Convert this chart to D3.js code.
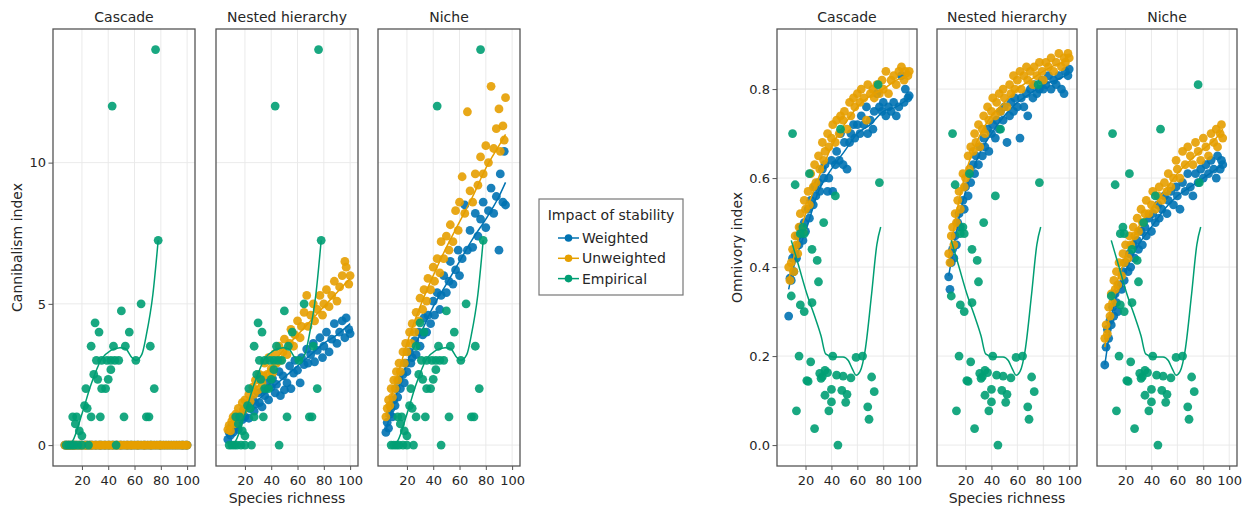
<!DOCTYPE html>
<html>
<head>
<meta charset="utf-8">
<script src="https://cdn.jsdelivr.net/npm/d3@7"></script>
<style>
  body { margin: 0; background: #fff; }
  text { font-family: "DejaVu Sans", sans-serif; fill: #262626; }
</style>
</head>
<body>
<div id="chart"></div>
<script>
// species richness of the simulated webs (cascade + nested hierarchy)
const S = [7, 8, 9, 10, 11, 12, 13, 14, 15, 16, 18, 19, 20, 22, 23, 24, 26, 27, 28, 30,
  31, 33, 34, 35, 37, 38, 40, 41, 43, 44, 46, 47, 49, 50, 52, 54, 55, 57, 58, 60,
  62, 63, 65, 67, 68, 70, 72, 73, 75, 77, 79, 80, 82, 84, 86, 88, 90, 92, 94, 96,
  97, 99, 100];
// niche model webs
const nicheS = [4, 5, 6, 7, 8, 9, 10, 11, 12, 13, 14, 15, 17, 18, 19, 20, 22, 23, 24, 26,
  27, 29, 30, 32, 33, 35, 36, 38, 40, 41, 43, 45, 46, 48, 50, 52, 53, 55, 57, 59,
  60, 62, 64, 66, 68, 70, 72, 74, 76, 78, 80, 82, 84, 86, 88, 90, 91, 93, 94, 95];

// cannibalism index
const canCascadeW = [0, 0, 0, 0, 0, 0, 0, 0, 0, 0, 0, 0, 0, 0, 0, 0, 0, 0, 0, 0,
  0, 0, 0, 0, 0, 0, 0, 0, 0, 0, 0, 0, 0, 0, 0, 0, 0, 0, 0, 0,
  0, 0, 0, 0, 0, 0, 0, 0, 0, 0, 0, 0, 0, 0, 0, 0, 0, 0, 0, 0, 0, 0, 0];
const canCascadeU = [0, 0, 0, 0, 0, 0, 0, 0, 0, 0, 0, 0, 0, 0, 0, 0, 0, 0, 0, 0,
  0, 0, 0, 0, 0, 0, 0, 0, 0, 0, 0, 0, 0, 0, 0, 0, 0, 0, 0, 0,
  0, 0, 0, 0, 0, 0, 0, 0, 0, 0, 0, 0, 0, 0, 0, 0, 0, 0, 0, 0, 0, 0, 0];
const canNestedW = [0.2, 0.45, 0.35, 0.7, 0.45, 0.6, 0.9, 0.75, 0.55, 1.0,
  0.9, 1.25, 1.0, 1.4, 0.95, 1.3, 1.6, 1.2, 1.45, 1.85,
  1.5, 1.35, 1.95, 1.75, 2.25, 1.6, 2.05, 2.35, 1.85, 2.15,
  2.6, 1.75, 2.45, 1.95, 2.2, 2.8, 2.0, 2.55, 3.0, 2.65,
  2.2, 3.1, 2.85, 3.4, 2.9, 3.2, 3.6, 2.95, 3.35, 3.8,
  3.1, 3.5, 4.0, 3.3, 3.75, 4.3, 3.6, 4.0, 4.4, 3.8,
  4.5, 4.1, 3.95];
const canNestedU = [0.55, 0.7, 0.5, 0.85, 1.0, 0.75, 1.1, 0.95, 1.3, 1.05,
  1.5, 1.25, 1.6, 1.35, 1.8, 1.55, 2.05, 1.8, 2.3, 1.95,
  2.5, 2.2, 2.45, 2.9, 2.5, 3.1, 2.7, 2.55, 3.25, 2.9,
  3.5, 3.0, 3.3, 3.75, 3.2, 3.6, 4.1, 3.5, 3.9, 4.4,
  3.8, 4.2, 4.7, 5.3, 4.2, 4.6, 5.0, 4.4, 4.8, 5.3,
  4.6, 5.0, 5.5, 4.9, 5.3, 5.8, 5.1, 5.6, 6.0, 6.5,
  6.3, 5.7, 6.0];
const canNicheW = [0.45, 0.8, 0.6, 1.1, 1.3, 1.0, 1.6, 1.4, 2.0, 1.7,
  2.3, 2.0, 2.5, 2.2, 2.9, 2.6, 3.3, 2.9, 3.1, 3.7,
  3.2, 4.0, 3.5, 3.9, 4.5, 4.0, 4.6, 4.3, 5.1, 4.6,
  5.4, 4.8, 5.3, 6.0, 5.4, 5.8, 6.5, 5.7, 6.2, 6.9,
  6.0, 6.6, 8.5, 6.9, 7.6, 7.0, 8.2, 7.4, 8.0, 8.6,
  7.7, 8.3, 9.1, 8.2, 8.8, 6.9, 9.6, 8.6, 10.4, 8.5];
const canNicheU = [1.0, 1.3, 1.6, 1.4, 2.0, 1.7, 2.3, 2.0, 2.6, 2.3,
  2.9, 2.6, 3.3, 2.9, 3.6, 3.3, 4.0, 3.6, 4.3, 4.0,
  4.7, 4.4, 5.2, 4.8, 5.5, 5.1, 5.9, 5.5, 6.3, 5.8,
  6.6, 6.1, 7.2, 6.6, 7.4, 6.9, 7.8, 7.2, 8.3, 7.6,
  8.6, 9.5, 8.2, 11.8, 9.0, 8.6, 9.6, 9.2, 10.2, 9.6,
  10.6, 10.0, 12.7, 10.5, 11.2, 11.9, 10.4, 11.3, 10.8, 12.3];

// omnivory index
const omnCascadeW = [0.29, 0.375, 0.37, 0.42, 0.39, 0.43, 0.42, 0.47, 0.45, 0.49,
  0.46, 0.50, 0.48, 0.53, 0.51, 0.55, 0.54, 0.58, 0.56, 0.59,
  0.57, 0.62, 0.60, 0.63, 0.57, 0.60, 0.64, 0.57, 0.63, 0.66,
  0.64, 0.70, 0.63, 0.68, 0.62, 0.68, 0.70, 0.72, 0.69, 0.72,
  0.70, 0.74, 0.72, 0.76, 0.70, 0.73, 0.71, 0.75, 0.79, 0.76,
  0.75, 0.77, 0.74, 0.76, 0.75, 0.77, 0.74, 0.76, 0.83, 0.77,
  0.80, 0.78, 0.785];
const omnCascadeU = [0.40, 0.37, 0.41, 0.44, 0.39, 0.47, 0.45, 0.43, 0.49, 0.52,
  0.48, 0.55, 0.53, 0.57, 0.54, 0.61, 0.58, 0.63, 0.59, 0.65,
  0.62, 0.68, 0.64, 0.66, 0.70, 0.67, 0.69, 0.72, 0.68, 0.73,
  0.70, 0.74, 0.73, 0.75, 0.71, 0.77, 0.74, 0.78, 0.76, 0.79,
  0.77, 0.80, 0.78, 0.73, 0.81, 0.79, 0.80, 0.78, 0.81, 0.79,
  0.82, 0.80, 0.84, 0.79, 0.82, 0.83, 0.81, 0.84, 0.85, 0.82,
  0.84, 0.83, 0.84];
const omnNestedW = [0.378, 0.35, 0.41, 0.44, 0.42, 0.47, 0.45, 0.50, 0.52, 0.49,
  0.55, 0.53, 0.58, 0.56, 0.61, 0.59, 0.63, 0.61, 0.65, 0.63,
  0.67, 0.65, 0.69, 0.67, 0.71, 0.66, 0.70, 0.72, 0.69, 0.73,
  0.71, 0.75, 0.73, 0.76, 0.68, 0.74, 0.77, 0.75, 0.78, 0.76,
  0.69, 0.78, 0.76, 0.79, 0.74, 0.80, 0.78, 0.81, 0.79, 0.80,
  0.82, 0.80, 0.81, 0.83, 0.80, 0.82, 0.81, 0.83, 0.80, 0.79,
  0.84, 0.83, 0.845];
const omnNestedU = [0.43, 0.41, 0.47, 0.49, 0.45, 0.52, 0.50, 0.55, 0.57, 0.53,
  0.61, 0.58, 0.60, 0.65, 0.62, 0.67, 0.66, 0.70, 0.68, 0.72,
  0.67, 0.71, 0.74, 0.70, 0.76, 0.73, 0.75, 0.78, 0.74, 0.77,
  0.79, 0.75, 0.80, 0.78, 0.76, 0.81, 0.79, 0.83, 0.80, 0.82,
  0.84, 0.80, 0.83, 0.85, 0.82, 0.84, 0.81, 0.85, 0.83, 0.86,
  0.84, 0.82, 0.86, 0.85, 0.87, 0.84, 0.86, 0.88, 0.85, 0.87,
  0.86, 0.88, 0.87];
const omnNicheW = [0.18, 0.22, 0.26, 0.24, 0.28, 0.27, 0.31, 0.29, 0.34, 0.32,
  0.30, 0.36, 0.35, 0.39, 0.37, 0.41, 0.39, 0.43, 0.40, 0.45,
  0.42, 0.46, 0.44, 0.48, 0.45, 0.49, 0.47, 0.51, 0.48, 0.52,
  0.50, 0.54, 0.51, 0.53, 0.56, 0.52, 0.55, 0.57, 0.54, 0.58,
  0.56, 0.53, 0.59, 0.57, 0.61, 0.58, 0.56, 0.61, 0.59, 0.62,
  0.60, 0.63, 0.61, 0.64, 0.62, 0.60, 0.65, 0.62, 0.64, 0.63];
const omnNicheU = [0.24, 0.27, 0.25, 0.31, 0.29, 0.34, 0.32, 0.37, 0.35, 0.39,
  0.36, 0.41, 0.38, 0.43, 0.41, 0.45, 0.42, 0.47, 0.45, 0.49,
  0.47, 0.51, 0.48, 0.53, 0.50, 0.52, 0.55, 0.52, 0.54, 0.57,
  0.53, 0.56, 0.58, 0.55, 0.59, 0.57, 0.61, 0.58, 0.60, 0.64,
  0.62, 0.60, 0.66, 0.63, 0.67, 0.65, 0.63, 0.68, 0.66, 0.64,
  0.69, 0.67, 0.65, 0.70, 0.68, 0.71, 0.67, 0.70, 0.72, 0.69];

// empirical food webs (same in every panel)
const empCanS = [76, 43, 78, 65, 50, 30, 33, 56, 27, 44, 53, 72, 31, 35, 39, 42, 45, 48, 61, 29,
  32, 42, 40, 35, 38, 23, 75, 22, 24, 13, 16, 27, 34, 52, 69, 71, 15, 18, 20, 8,
  10, 12, 14, 17, 20, 25, 46];
const empCan = [14, 12, 7.25, 5, 4.75, 4.33, 4, 4, 3.5, 3.5, 3.5, 3.5, 3, 3, 3, 3, 3, 3, 3, 2.5,
  2.33, 2.67, 2.33, 2, 2, 2, 2, 1.4, 1.3, 1, 1, 1, 1, 1, 1, 1, 0.75, 0.5, 0.33, 0,
  0, 0, 0, 0, 0, 0, 0];
const empOmnS = [10, 12, 23, 77, 76, 43, 47, 34, 16, 18, 19, 25, 29, 30, 9, 16, 19, 25, 15, 41,
  59, 64, 24, 31, 33, 35, 37, 32, 44, 49, 55, 71, 21, 22, 35, 40, 40, 38, 48, 52,
  51, 73, 68, 69, 13, 27, 45];
const empOmn = [0.70, 0.585, 0.61, 0.59, 0.81, 0.56, 0.71, 0.50, 0.475, 0.49,
  0.475, 0.44, 0.415, 0.367, 0.335, 0.315, 0.30, 0.32, 0.20, 0.20,
  0.197, 0.20, 0.187, 0.161, 0.154, 0.168, 0.163, 0.15, 0.157, 0.155,
  0.151, 0.153, 0.145, 0.143, 0.112, 0.125, 0.097, 0.077, 0.123, 0.114,
  0.096, 0.12, 0.086, 0.058, 0.077, 0.037, 0];

// smoothed trends
const fitS = [7, 10, 15, 20, 30, 40, 50, 60, 70, 80, 90, 100];
const nicheFitS = [4, 5, 8, 10, 15, 20, 30, 40, 50, 60, 70, 80, 90, 95];
const canCascadeFit = [0, 0, 0, 0, 0, 0, 0, 0, 0, 0, 0, 0];
const canNestedWFit = [0.3, 0.5, 0.8, 1.1, 1.6, 2.0, 2.4, 2.8, 3.2, 3.6, 3.9, 4.3];
const canNestedUFit = [0.5, 0.7, 1.05, 1.4, 2.1, 2.8, 3.4, 3.9, 4.4, 4.9, 5.4, 5.9];
const canNicheWFit = [0.5, 0.7, 1.15, 1.5, 2.2, 2.9, 3.9, 4.9, 5.7, 6.5, 7.3, 8.0, 8.8, 9.3];
const canNicheUFit = [1.0, 1.2, 1.7, 2.0, 2.8, 3.6, 4.9, 6.0, 7.0, 7.9, 8.8, 9.8, 10.6, 11.0];
const omnCascadeWFit = [0.35, 0.39, 0.44, 0.48, 0.57, 0.62, 0.66, 0.70, 0.72, 0.75, 0.76, 0.78];
const omnCascadeUFit = [0.37, 0.41, 0.47, 0.52, 0.60, 0.67, 0.72, 0.76, 0.785, 0.80, 0.82, 0.83];
const omnNestedWFit = [0.38, 0.43, 0.51, 0.57, 0.65, 0.70, 0.74, 0.77, 0.79, 0.81, 0.82, 0.835];
const omnNestedUFit = [0.42, 0.47, 0.55, 0.61, 0.69, 0.74, 0.77, 0.80, 0.82, 0.84, 0.855, 0.865];
const omnNicheWFit = [0.18, 0.20, 0.26, 0.30, 0.35, 0.39, 0.45, 0.49, 0.53, 0.56, 0.58, 0.60, 0.62, 0.63];
const omnNicheUFit = [0.22, 0.24, 0.30, 0.33, 0.38, 0.42, 0.49, 0.53, 0.57, 0.61, 0.64, 0.665, 0.69, 0.71];
const empCanFitS = [9, 13, 20, 27, 35, 42, 49, 53, 58, 61, 65.5, 69, 74, 78];
const empCanFit = [0, 0.15, 1.1, 2.15, 3.05, 3.35, 3.45, 3.42, 3.1, 3.0, 3.2, 3.9, 5.35, 7.25];
const empOmnFitS = [9, 15, 21, 27, 32, 35.5, 41.5, 49, 53, 56, 59, 62, 66, 71, 75, 78];
const empOmnFit = [0.46, 0.40, 0.34, 0.29, 0.245, 0.205, 0.198, 0.198, 0.19, 0.172, 0.157, 0.165, 0.213, 0.34, 0.45, 0.49];

const models = ["Cascade", "Nested hierarchy", "Niche"];
const seriesNames = ["Weighted", "Unweighted", "Empirical"];
const color = { Weighted: "#0072b2", Unweighted: "#e69f00", Empirical: "#009e73" };
const xTicks = [20, 40, 60, 80, 100];

const zip = (xs, ys) => xs.map((x, i) => [x, ys[i]]);

const groups = [
  {
    lefts: [53, 216, 378], width: 142, yDomain: [-0.74, 14.73], yTicks: [0, 5, 10],
    yFormat: d3.format("d"), ylabel: "Cannibalism index", ylabelX: 17,
    emp: { pts: zip(empCanS, empCan), fit: zip(empCanFitS, empCanFit) },
    panels: [
      { W: zip(S, canCascadeW), U: zip(S, canCascadeU), WFit: zip(fitS, canCascadeFit), UFit: zip(fitS, canCascadeFit) },
      { W: zip(S, canNestedW), U: zip(S, canNestedU), WFit: zip(fitS, canNestedWFit), UFit: zip(fitS, canNestedUFit) },
      { W: zip(nicheS, canNicheW), U: zip(nicheS, canNicheU), WFit: zip(nicheFitS, canNicheWFit), UFit: zip(nicheFitS, canNicheUFit) }
    ]
  },
  {
    lefts: [777, 937, 1097], width: 140, yDomain: [-0.047, 0.935], yTicks: [0, 0.2, 0.4, 0.6, 0.8],
    yFormat: d3.format(".1f"), ylabel: "Omnivory index", ylabelX: 737,
    emp: { pts: zip(empOmnS, empOmn), fit: zip(empOmnFitS, empOmnFit) },
    panels: [
      { W: zip(S, omnCascadeW), U: zip(S, omnCascadeU), WFit: zip(fitS, omnCascadeWFit), UFit: zip(fitS, omnCascadeUFit) },
      { W: zip(S, omnNestedW), U: zip(S, omnNestedU), WFit: zip(fitS, omnNestedWFit), UFit: zip(fitS, omnNestedUFit) },
      { W: zip(nicheS, omnNicheW), U: zip(nicheS, omnNicheU), WFit: zip(nicheFitS, omnNicheWFit), UFit: zip(nicheFitS, omnNicheUFit) }
    ]
  }
];

const panelTop = 29, panelH = 437;
const svg = d3.select("#chart").append("svg")
  .attr("width", 1250).attr("height", 510);

groups.forEach(grp => {
  const y = d3.scaleLinear().domain(grp.yDomain).range([panelH, 0]);

  grp.panels.forEach((p, i) => {
    const x = d3.scaleLinear().domain([-2, 106]).range([0, grp.width]);
    const g = svg.append("g").attr("transform", `translate(${grp.lefts[i]},${panelTop})`);

    // grid
    g.selectAll(".vg").data(xTicks).join("line")
      .attr("x1", d => x(d)).attr("x2", d => x(d))
      .attr("y1", 0).attr("y2", panelH)
      .attr("stroke", "#e8e8e8").attr("stroke-width", 0.9);
    g.selectAll(".hg").data(grp.yTicks).join("line")
      .attr("x1", 0).attr("x2", grp.width)
      .attr("y1", d => y(d)).attr("y2", d => y(d))
      .attr("stroke", "#e8e8e8").attr("stroke-width", 0.9);

    const line = d3.line().x(d => x(d[0])).y(d => y(d[1])).curve(d3.curveMonotoneX);

    const layers = [
      { name: "Weighted", pts: p.W, fit: p.WFit },
      { name: "Unweighted", pts: p.U, fit: p.UFit },
      { name: "Empirical", pts: grp.emp.pts, fit: grp.emp.fit }
    ];
    layers.forEach(l => {
      g.append("g").selectAll("circle").data(l.pts).join("circle")
        .attr("cx", d => x(d[0])).attr("cy", d => y(d[1]))
        .attr("r", 4.4)
        .attr("fill", color[l.name]).attr("fill-opacity", 0.9);
      g.append("path").datum(l.fit)
        .attr("d", line)
        .attr("fill", "none")
        .attr("stroke", color[l.name])
        .attr("stroke-width", 1.5);
    });

    g.append("rect")
      .attr("width", grp.width).attr("height", panelH)
      .attr("fill", "none").attr("stroke", "#555").attr("stroke-width", 1.3);

    const xa = g.append("g").attr("transform", `translate(0,${panelH})`)
      .call(d3.axisBottom(x).tickValues(xTicks).tickSize(4).tickPadding(6));
    xa.select(".domain").remove();
    xa.selectAll("line").attr("stroke", "#555");
    xa.selectAll("text").attr("font-size", 13).attr("font-family", "DejaVu Sans").attr("fill", "#262626");

    if (i === 0) {
      const ya = g.append("g")
        .call(d3.axisLeft(y).tickValues(grp.yTicks).tickFormat(grp.yFormat).tickSize(4.5).tickPadding(2.5));
      ya.select(".domain").remove();
      ya.selectAll("line").attr("stroke", "#555");
      ya.selectAll("text").attr("font-size", 13).attr("font-family", "DejaVu Sans").attr("fill", "#262626");
    }

    g.append("text")
      .attr("x", grp.width / 2).attr("y", -7)
      .attr("text-anchor", "middle").attr("font-size", 14)
      .text(models[i]);

    if (i === 1) {
      g.append("text")
        .attr("x", grp.width / 2).attr("y", panelH + 37)
        .attr("text-anchor", "middle").attr("font-size", 14)
        .text("Species richness");
    }
  });

  svg.append("text")
    .attr("transform", `translate(${grp.ylabelX + 5},${panelTop + panelH / 2}) rotate(-90)`)
    .attr("text-anchor", "middle").attr("font-size", 14)
    .text(grp.ylabel);
});

// legend
const lg = svg.append("g").attr("transform", "translate(539,199)");
lg.append("rect").attr("width", 144).attr("height", 96)
  .attr("fill", "#fff").attr("stroke", "#777").attr("stroke-width", 1.2);
lg.append("text").attr("x", 72).attr("y", 21)
  .attr("text-anchor", "middle").attr("font-size", 14)
  .text("Impact of stability");
const items = lg.selectAll(".item").data(seriesNames).join("g")
  .attr("transform", (d, i) => `translate(0,${39 + i * 20.3})`);
items.append("line").attr("x1", 19).attr("x2", 40)
  .attr("stroke", d => color[d]).attr("stroke-width", 1.5);
items.append("circle").attr("cx", 29.5).attr("r", 3.8).attr("fill", d => color[d]);
items.append("text").attr("x", 43).attr("y", 5)
  .attr("font-size", 14).text(d => d);
</script>
</body>
</html>
